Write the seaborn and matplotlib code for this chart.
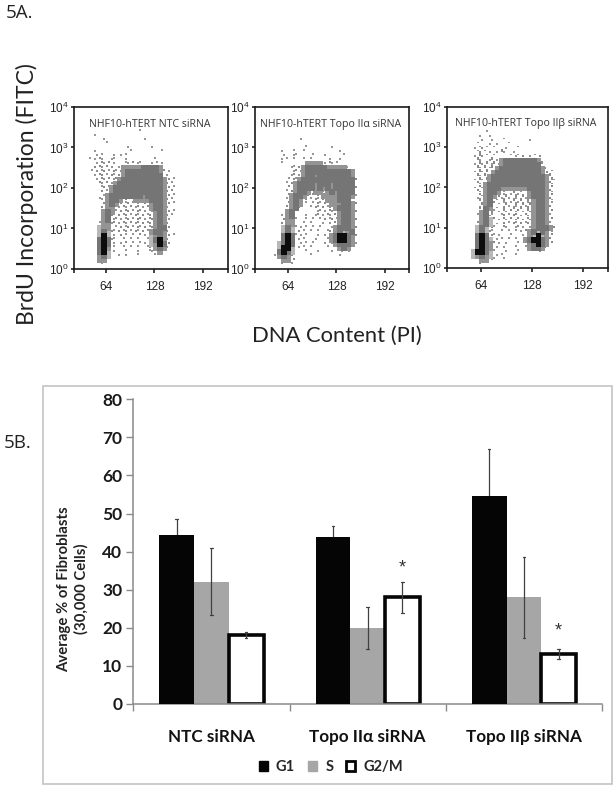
import matplotlib
matplotlib.use("Agg")
import matplotlib.pyplot as plt
from matplotlib.patches import Patch, Rectangle
import numpy as np
import pandas as pd
import seaborn as sns

W, H = 615, 787

# ---------- Panel 5B data ----------
groups = ["NTC siRNA", "Topo IIα siRNA", "Topo IIβ siRNA"]
phases = ["G1", "S", "G2/M"]
g1_values = [44.3, 43.9, 54.7]
s_values = [32.0, 20.0, 28.0]
g2m_values = [18.0, 28.2, 13.2]
g1_err_low = [40.0, 41.0, 42.5]
g1_err_high = [48.5, 46.7, 67.0]
s_err_low = [23.3, 14.5, 17.3]
s_err_high = [41.0, 25.5, 38.6]
g2m_err_low = [17.4, 24.0, 11.8]
g2m_err_high = [18.8, 32.0, 14.5]
y_ticks = [0, 10, 20, 30, 40, 50, 60, 70, 80]

# ---------- Panel 5A data: density, one character per cell ----------
flow_titles = ["NHF10-hTERT NTC siRNA", "NHF10-hTERT Topo IIα siRNA", "NHF10-hTERT Topo IIβ siRNA"]
flow_xticks = [64, 128, 192]
flow_yticks = [1, 10, 100, 1000, 10000]
density_ntc = [
"",
"            .",
" .",
"   .         .",
"    .",
"         .     .",
" .        .       .",
" ..  . ..",
"..:. ..  .      .",
" .:.:.  ..:..  ...",
" ::.:. .oooooOOOOo.",
".:.:.:.:oOOOOOOOOo:.",
" .::.:.:oOOOOOOOOO:.",
" .:.:.:oOOOOOOOOOOo:.",
"  :.:.oOOOOOOOOOOOo:.",
"  .::oOOOOOOOOOOOOo:.",
"   :.oOOOOOOOOOOOOo::",
"   .oOOOOOOOOoOOOOo:.",
"  ..oOOo:::ooooOOOo:.",
"   :oOo:.::.:::oOOo:.",
"   :oo:.:.:.:.:oOOo.",
"   oOo.:::.::.:.oOo:.",
"   oO:.:.:.:.:.:oOo:.",
"  .oO.:..:.::.::oOo.",
"  .oo.:.:.:.::.:oOo:",
"  -oo .:.:.:.:.:oOO:",
"  -O-:.:.:.:.:.oOOo:",
"  -@-. :. . :. -oOo:.",
"  O@O.. . . . .-O@o:",
"  O@O. .: . .. -o@O:",
"  O@o . . . . .:oOo.",
"  O@-.  .  .  .. o:",
"  oO-  . .  .   .",
"  oo:",
"  :.",
]
density_alpha = [
"",
"",
"",
"       .",
"",
"        .      .",
"   .  . .        .",
"   . ..   .  .    .",
"   .. . . .    . .",
"  .     .oooo.:..",
"     ..:oOOOOOooooo.",
"     .:.oOOOOOOOOOOOo",
"     .:.oOOoOOOOOOOOo:",
"    .:.oOOOOOOOOOOOOO:",
"    .:oOOOOoOOOoOOOOO:",
"    :.oOOOOoOoOoOOOOO:",
"    .:oOOo:oo:oOoOOOO.",
"    :oOOo::::ooooOOOo.",
"    .oOo.:.:.:oooOOO:",
"    :oOo. .:.::oooOOo:",
"    :oO:  .:.:.:oOOOo:",
"    oO:    .:.:.:oOOo:",
"   .oO.  . .:.:.:oOOo",
"   :oo. . . .:.:.oOOo:",
"   :oo: . .  . .:oOOo.",
"   -O-:.. . .  .oOOOo:",
"   -O-.:. . . .:oO-oO:",
"   O@O...  . . oO@@Oo:",
"   O@O:..  .  .oO@@Oo:",
"  -O@O .. .  . .oOOOo.",
"  -@@- .. .   . :oOo:",
"  O@O-  .  .   . .:.",
" .oOo:    .      .",
"  :oo:",
"   . .",
]
density_beta = [
"",
"    .",
"   . .",
"   . .  .      .",
"  .  . .  .",
" ..:. .  .  .",
"  .:.. .:. .",
" .:.. .   ...: ..:",
"  :. .:.oOOOOOOOOo.",
" .:.:.:.oOOOOOOOOO:",
"  :.:.:oOOOOOOOOOOo:",
" .:.:.oOOOOOOOOOOOo:.",
"  :.:oOOOOOOOOOOOOOo:",
" .:.:oOOOOOOOOOOOOOo:.",
"  :.oOOOOOOOOOOOOOOo:.",
" .:.oOOOoooooooOOOOo:",
"  :.oOOo:.:::.:oOOOo:.",
"  :.oOo:.:.:.:.oOOOo:",
"  .:oO:..:.:.:.:oOOo:.",
"   :oO:..:.:.:.:oOOo.",
"   :Oo:. :.:.:.:oOOo:",
"   oO:..:.:.:.:.oOOo:",
"  .oO.. .:.::.:.oOOo.",
"  :oO-:.:.:.:.:.oOOo:",
"  :oO-:. :.:.:.:oOOo.",
"  -O-:. :. .:. .oOOOo:",
"  -O-.. . . ..:oO-Oo:.",
"  O@O:..  .  .:o-@-o:",
"  O@O-:.. . . oO@@Oo:",
"  O@Oo:. .  . :oO@Oo:",
"  O@Oo:. .  . .oOOo:",
" -@@O-.  .  .   .:.",
" -oOo-:..   .",
"  :oo:. .",
"   :.",
]
density_maps = [density_ntc, density_alpha, density_beta]

# ---------- layout and styles ----------
flow_boxes = [(74, 228, 107, 269), (255, 409, 107, 269), (447, 608, 107, 268)]
flow_xlims = [(21.8, 225), (20.3, 224), (21.3, 223)]
grid_x0 = [42.9, 40.2, 47.7]
grid_dx = [5.28, 5.30, 5.02]
grid_log_top = [3.53, 3.53, 3.51]
grid_dlog = 4 / 40.5
level_colors = {".": "#969696", ":": "#8a8a8a", "-": "#b8b8b8", "o": "#949494", "O": "#757575", "@": "#0c0c0c"}
level_sizes = {".": 1.4, ":": 2.6, "-": 15, "o": 15, "O": 15, "@": 15}
dot_levels = ".:"

sns.set_theme(style="white", rc={"font.family": ["Liberation Sans", "DejaVu Sans"], "mathtext.default": "regular"})
fig = plt.figure(figsize=(W / 100, H / 100), dpi=100, facecolor="white")


def axes_px(l, r, t, b):
    return fig.add_axes([l / W, 1 - b / H, (r - l) / W, (b - t) / H])


def density_frame(rows, x0, dx, log_top):
    records = []
    for r, row in enumerate(rows):
        for c, ch in enumerate(row):
            if ch != " ":
                # sparse cells are staggered so that the stipple does not read as a lattice
                xs = 0.5 * (r % 2) + 0.25 * (c % 3) if ch in dot_levels else 0.5
                ys = 0.3 * (c % 2) if ch in dot_levels else 0.5
                records.append((x0 + (c + xs) * dx, 10 ** (log_top - (r + ys) * grid_dlog), ch))
    frame = pd.DataFrame(records, columns=["dna", "brdu", "level"])
    order = {k: i for i, k in enumerate(".:-oO@")}
    return frame.iloc[frame["level"].map(order).argsort(kind="stable")]


for i, box in enumerate(flow_boxes):
    ax = axes_px(*box)
    frame = density_frame(density_maps[i], grid_x0[i], grid_dx[i], grid_log_top[i])
    sns.scatterplot(data=frame, x="dna", y="brdu", hue="level", size="level", palette=level_colors,
                    sizes=level_sizes, marker="s", linewidth=0, legend=False, ax=ax)
    ax.set_yscale("log")
    ax.set_xlim(*flow_xlims[i])
    ax.set_ylim(1, 10000)
    ax.set_xticks([flow_xlims[i][0]] + flow_xticks + [flow_xlims[i][1]])
    ax.set_xticklabels([""] + [str(v) for v in flow_xticks] + [""], fontsize=8.5, color="#222222")
    ax.set_yticks(flow_yticks)
    ax.set_yticklabels([f"$10^{{{int(np.log10(v))}}}$" for v in flow_yticks], fontsize=8.5, color="#222222")
    ax.minorticks_off()
    ax.tick_params(axis="x", length=3, width=1.1, pad=6, bottom=True, color="#111111")
    ax.tick_params(axis="y", length=2, width=1.1, pad=2, left=True, color="#111111")
    ax.set_xlabel("")
    ax.set_ylabel("")
    for s in ax.spines.values():
        s.set_color("#1a1a1a")
        s.set_linewidth(1.2)
    ax.text(0.49, 0.895, flow_titles[i], transform=ax.transAxes, ha="center", va="center",
            fontsize=7.6, color="#333333", family=["Open Sans", "DejaVu Sans"])

fig.text(6 / W, 1 - 13 / H, "5A.", fontsize=13.5, family="Open Sans", color="#222222", va="center")
fig.text(4 / W, 1 - 443 / H, "5B.", fontsize=13.5, family="Open Sans", color="#222222", va="center")
fig.text(27 / W, 1 - 194 / H, "BrdU Incorporation (FITC)", rotation=90, ha="center", va="center",
         fontsize=16.5, family="Lato", color="#222222")
fig.text(337 / W, 1 - 336 / H, "DNA Content (PI)", ha="center", va="center",
         fontsize=15.8, family="Lato", color="#222222")

# ---------- Panel 5B ----------
fig.add_artist(Rectangle((43 / W, 1 - 784 / H), (612 - 43) / W, (784 - 386) / H, transform=fig.transFigure,
                         fill=False, edgecolor="#c4c4c4", linewidth=1.2))
bar_ax = axes_px(133.3, 602, 399.3, 704)
bars = pd.DataFrame({
    "group": groups * 3,
    "phase": [p for p in phases for _ in groups],
    "value": g1_values + s_values + g2m_values,
})
palette = {"G1": "#050505", "S": "#a6a6a6", "G2/M": "white"}
sns.barplot(data=bars, x="group", y="value", hue="phase", order=groups, hue_order=phases, palette=palette,
            width=0.667, gap=0, saturation=1, legend=False, linewidth=0, ax=bar_ax)
err_low = [g1_err_low, s_err_low, g2m_err_low]
err_high = [g1_err_high, s_err_high, g2m_err_high]
for k, cont in enumerate(bar_ax.containers):
    for j, patch in enumerate(cont.patches):
        patch.set_zorder(3 if k == 0 else 1)
        if phases[k] == "G2/M":
            patch.set_edgecolor("#050505")
            patch.set_linewidth(2.6)
            patch.set_zorder(2.5)
        xc = patch.get_x() + patch.get_width() / 2
        ez = 2 if k == 0 else 4
        bar_ax.plot([xc, xc], [err_low[k][j], err_high[k][j]], color="#404040", lw=0.9, zorder=ez)
        for yv in (err_low[k][j], err_high[k][j]):
            bar_ax.plot([xc - 0.008, xc + 0.008], [yv, yv], color="#404040", lw=0.9, zorder=ez)
star_positions = {1: 35.8, 2: 19.2}
for j, yv in star_positions.items():
    patch = bar_ax.containers[2].patches[j]
    bar_ax.text(patch.get_x() + patch.get_width() / 2, yv, "*", ha="center", va="center",
                fontsize=13, color="#333333", family="Liberation Sans")
bar_ax.set_xlim(-0.5, 2.5)
bar_ax.set_ylim(0, 80)
bar_ax.set_yticks(y_ticks)
bar_ax.set_yticklabels([str(v) for v in y_ticks], fontsize=12.5, fontweight="bold", family="Lato", color="#1a1a1a")
bar_ax.set_xticks([-0.5, 0.5, 1.5, 2.5], labels=["", "", "", ""], minor=False)
bar_ax.set_xticks([0, 1, 2], labels=groups, minor=True)
bar_ax.tick_params(axis="x", which="major", length=5, width=1, color="#8a8a8a", bottom=True)
bar_ax.tick_params(axis="x", which="minor", length=0, pad=18, labelsize=12.3)
for lab in bar_ax.get_xticklabels(minor=True):
    lab.set_fontweight("bold")
    lab.set_family(["Lato", "DejaVu Sans"])
    lab.set_color("#111111")
bar_ax.tick_params(axis="y", length=5, width=1, color="#8a8a8a", left=True, pad=3)
sns.despine(ax=bar_ax)
for side in ("left", "bottom"):
    bar_ax.spines[side].set_color("#8a8a8a")
    bar_ax.spines[side].set_linewidth(1.1)
bar_ax.set_xlabel("")
bar_ax.set_ylabel("")
fig.text(73 / W, 1 - 589 / H, "Average % of Fibroblasts\n(30,000 Cells)", rotation=90, ha="center", va="center",
         fontsize=10.7, fontweight="bold", family="Lato", color="#222222", linespacing=1.3)
handles = [
    Patch(facecolor="#050505", edgecolor="#050505", label="G1"),
    Patch(facecolor="#a6a6a6", edgecolor="#a6a6a6", label="S"),
    Patch(facecolor="white", edgecolor="#050505", linewidth=2, label="G2/M"),
]
fig.legend(handles=handles, loc="center", bbox_to_anchor=(331 / W, 1 - 767 / H), ncol=3, frameon=False,
           handlelength=0.62, handleheight=0.62, handletextpad=0.55, columnspacing=0.9,
           prop={"family": "Lato", "weight": "bold", "size": 10.5})

fig.savefig("out.png", dpi=100)
